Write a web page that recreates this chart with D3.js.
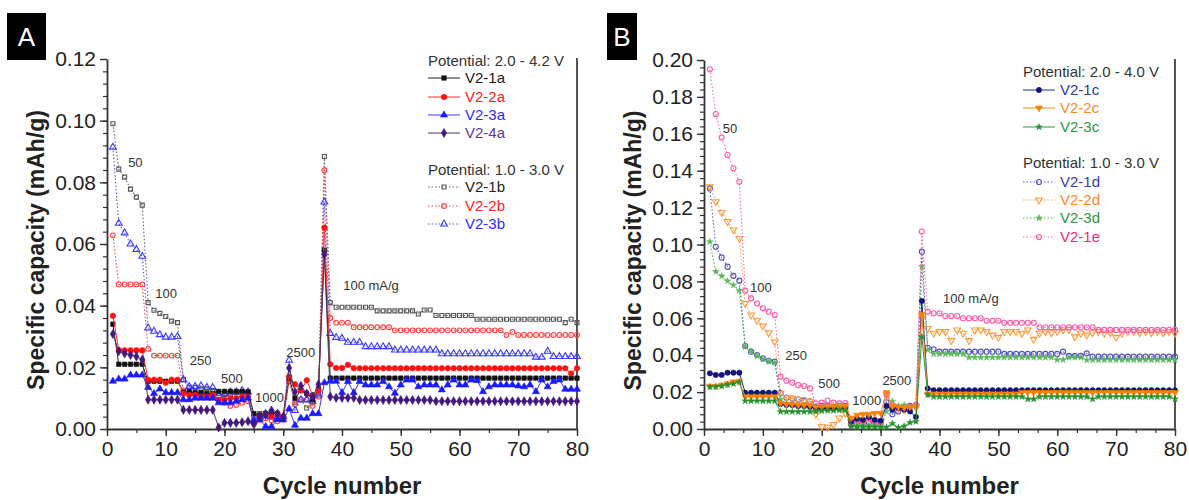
<!DOCTYPE html>
<html>
<head>
<meta charset="utf-8">
<script src="https://cdn.jsdelivr.net/npm/d3@7"></script>
<style>
html, body { margin: 0; padding: 0; background: #fff; }
svg { display: block; font-family: "Liberation Sans", Arial, Helvetica, sans-serif; }
</style>
</head>
<body>
<svg id="chart" width="1189" height="500"></svg>
<script>
// ---------- data ----------
const cycles = d3.range(1, 81);

// Panel A, potential 2.0 - 4.2 V
const v21a = [
  0.034, 0.021, 0.021, 0.021, 0.021, 0.021,
  0.0155, 0.0155, 0.0155, 0.0155, 0.0155, 0.0155,
  0.012, 0.012, 0.0118, 0.0118, 0.0115, 0.0115,
  0.0122, 0.0122, 0.0122, 0.0122, 0.0122, 0.012,
  0.005, 0.0045, 0.005, 0.0055, 0.005, 0.004,
  0.0165, 0.01, 0.0125, 0.0115, 0.0095, 0.013,
  0.058,
  0.0165, 0.0165, 0.0165, 0.0165, 0.0165, 0.0165, 0.0165, 0.0165, 0.0165, 0.0165,
  0.0165, 0.0165, 0.0165, 0.0165, 0.0165, 0.0165, 0.0165, 0.0165, 0.0165, 0.0165,
  0.0165, 0.0165, 0.0165, 0.0165, 0.0165, 0.0165, 0.0165, 0.0165, 0.0165, 0.0165,
  0.0165, 0.0165, 0.0165, 0.0165, 0.0165, 0.0165, 0.0165, 0.0165, 0.0165, 0.0165,
  0.0165, 0.0165, 0.0165
];
const v22a = [
  0.0367, 0.0256, 0.0255, 0.0255, 0.0255, 0.0255,
  0.016, 0.016, 0.016, 0.015, 0.016, 0.016,
  0.0115, 0.011, 0.011, 0.0105, 0.0105, 0.011,
  0.0095, 0.0095, 0.01, 0.01, 0.0105, 0.0105,
  0.002, 0.004, 0.0045, 0.004, 0.005, 0.004,
  0.017, 0.0145, 0.0125, 0.0158, 0.011, 0.0125,
  0.0653,
  0.021, 0.0198, 0.0198, 0.0208, 0.0197, 0.0197, 0.0197, 0.0197, 0.0197, 0.0197,
  0.0197, 0.0197, 0.0197, 0.0197, 0.0197, 0.0197, 0.0197, 0.0197, 0.0197, 0.0197,
  0.0197, 0.0197, 0.0197, 0.0197, 0.0197, 0.0197, 0.0197, 0.0197, 0.0197, 0.0197,
  0.0197, 0.0197, 0.0197, 0.0197, 0.0197, 0.0197, 0.0197, 0.0197, 0.0197, 0.0197,
  0.0197, 0.018, 0.0197
];
const v23a = [
  0.0155, 0.0162, 0.0162, 0.0175, 0.0175, 0.0175,
  0.0135, 0.0115, 0.013, 0.0118, 0.0118, 0.0118,
  0.0095, 0.0095, 0.01, 0.01, 0.01, 0.01,
  0.0085, 0.0085, 0.0085, 0.009, 0.0095, 0.01,
  0.0025, 0.003, 0.0008, 0.0008, 0.003, 0.003,
  0.0065, 0.0012, 0.0035, 0.0035, 0.005, 0.005,
  0.015,
  0.0155, 0.0155, 0.0118, 0.0154, 0.0118, 0.0154, 0.0143, 0.0143, 0.0143, 0.0154,
  0.0137, 0.0116, 0.0143, 0.0159, 0.0159, 0.0137, 0.0143, 0.0143, 0.0143, 0.0127,
  0.0143, 0.0159, 0.0143, 0.0143, 0.0159, 0.0157, 0.0121, 0.0137, 0.0143, 0.0143,
  0.0143, 0.0143, 0.014, 0.0137, 0.0143, 0.0121, 0.0159, 0.0137, 0.0154, 0.0159,
  0.0129, 0.0129, 0.0129
];
const v24a = [
  0.0308, 0.0252, 0.0245, 0.024, 0.0235, 0.0225,
  0.0095, 0.0095, 0.0095, 0.0095, 0.0095, 0.0095,
  0.0062, 0.0062, 0.0062, 0.0062, 0.0062, 0.0062,
  0.0005, 0.002, 0.002, 0.002, 0.0022, 0.0025,
  0.0015, 0.004, 0.0045, 0.006, 0.005, 0.004,
  0.0198, 0.012, 0.014, 0.0115, 0.0105, 0.0145,
  0.0566,
  0.0105, 0.0101, 0.0101, 0.0101, 0.0101, 0.0094, 0.0094, 0.0094, 0.0094, 0.0094,
  0.0094, 0.0094, 0.0094, 0.0094, 0.0094, 0.0094, 0.0094, 0.0094, 0.009, 0.009,
  0.009, 0.009, 0.009, 0.009, 0.009, 0.009, 0.009, 0.009, 0.009, 0.009,
  0.009, 0.009, 0.009, 0.009, 0.009, 0.009, 0.009, 0.009, 0.009, 0.009,
  0.009, 0.009, 0.009
];

// Panel A, potential 1.0 - 3.0 V
const v21b = [
  0.099, 0.0843, 0.0817, 0.0778, 0.0752, 0.0726,
  0.041, 0.0385, 0.0375, 0.0365, 0.035, 0.0345,
  0.016, 0.0135, 0.0135, 0.013, 0.013, 0.0125,
  0.0115, 0.0112, 0.0112, 0.0118, 0.0118, 0.012,
  0.004, 0.005, 0.0045, 0.005, 0.004, 0.0035,
  0.0165, 0.0085, 0.0095, 0.0068, 0.0085, 0.0115,
  0.0884,
  0.041, 0.0395, 0.0395, 0.0395, 0.0395, 0.0395, 0.0395, 0.0395, 0.0383, 0.0383,
  0.0383, 0.0383, 0.0383, 0.0383, 0.0383, 0.0373, 0.0386, 0.0386, 0.0368, 0.0368,
  0.0368, 0.0368, 0.0368, 0.0368, 0.0368, 0.0356, 0.0356, 0.0356, 0.0356, 0.0356,
  0.0356, 0.0356, 0.0356, 0.0356, 0.0356, 0.0356, 0.0356, 0.0356, 0.0356, 0.0356,
  0.0345, 0.0356, 0.0345
];
const v22b = [
  0.0628, 0.0469, 0.0469, 0.0469, 0.0469, 0.0469,
  0.026, 0.0238, 0.0238, 0.0238, 0.0238, 0.0238,
  0.0125, 0.0115, 0.0115, 0.011, 0.011, 0.011,
  0.0092, 0.0085, 0.0075, 0.0078, 0.0085, 0.009,
  0.0025, 0.003, 0.0035, 0.0028, 0.0025, 0.003,
  0.0155, 0.008, 0.0095, 0.0095, 0.0075, 0.0105,
  0.0839,
  0.036, 0.0345, 0.0345, 0.0345, 0.033, 0.033, 0.033, 0.033, 0.033, 0.033,
  0.033, 0.032, 0.032, 0.032, 0.032, 0.032, 0.032, 0.032, 0.032, 0.032,
  0.032, 0.032, 0.032, 0.032, 0.032, 0.032, 0.032, 0.032, 0.032, 0.032,
  0.0305, 0.0315, 0.0305, 0.0305, 0.0305, 0.0305, 0.0305, 0.0305, 0.0305, 0.0305,
  0.0305, 0.0305, 0.0305
];
const v23b = [
  0.0914, 0.0667, 0.0636, 0.06, 0.0582, 0.056,
  0.0328, 0.0317, 0.0306, 0.0298, 0.0298, 0.03,
  0.016, 0.0138, 0.0138, 0.014, 0.0135, 0.0135,
  0.0108, 0.0115, 0.012, 0.012, 0.0125, 0.012,
  0.003, 0.004, 0.005, 0.004, 0.0035, 0.004,
  0.0223, 0.006, 0.0095, 0.0095, 0.009, 0.011,
  0.0736,
  0.031, 0.0297, 0.0294, 0.0281, 0.0281, 0.0281, 0.0267, 0.0267, 0.0267, 0.0267,
  0.0267, 0.0256, 0.0256, 0.0256, 0.0256, 0.0256, 0.0256, 0.0256, 0.0256, 0.0244,
  0.0244, 0.0244, 0.0244, 0.0244, 0.0244, 0.0244, 0.0244, 0.0244, 0.0244, 0.0244,
  0.0244, 0.0244, 0.0244, 0.0244, 0.0244, 0.0233, 0.0233, 0.0252, 0.0235, 0.0235,
  0.0235, 0.0235, 0.0235
];

// Panel B, potential 2.0 - 4.0 V
const v21c = [
  0.0302, 0.0293, 0.0293, 0.0305, 0.0305, 0.0305,
  0.0197, 0.0197, 0.0197, 0.0197, 0.0197, 0.0197,
  0.0135, 0.013, 0.013, 0.0125, 0.0125, 0.012,
  0.0115, 0.0112, 0.011, 0.0112, 0.0115, 0.0115,
  0.004, 0.0055, 0.005, 0.0065, 0.005, 0.0045,
  0.0125, 0.0105, 0.0115, 0.0105, 0.0095, 0.0065,
  0.0694,
  0.022, 0.021, 0.021, 0.021, 0.021, 0.021, 0.021, 0.021, 0.021, 0.021,
  0.021, 0.021, 0.021, 0.021, 0.021, 0.021, 0.021, 0.021, 0.021, 0.021,
  0.021, 0.021, 0.021, 0.021, 0.021, 0.021, 0.021, 0.021, 0.021, 0.021,
  0.021, 0.021, 0.021, 0.021, 0.021, 0.021, 0.021, 0.021, 0.021, 0.021,
  0.021, 0.021, 0.021
];
const v22c = [
  0.0232, 0.0232, 0.0238, 0.0245, 0.0255, 0.0258,
  0.0175, 0.0175, 0.0175, 0.0175, 0.0175, 0.0175,
  0.014, 0.0135, 0.0135, 0.013, 0.013, 0.013,
  0.012, 0.012, 0.0122, 0.0122, 0.012, 0.0122,
  0.006, 0.0075, 0.008, 0.008, 0.0085, 0.0085,
  0.0198, 0.0125, 0.012, 0.0115, 0.012, 0.012,
  0.062,
  0.019, 0.019, 0.019, 0.019, 0.019, 0.019, 0.019, 0.019, 0.019, 0.019,
  0.019, 0.019, 0.019, 0.019, 0.019, 0.019, 0.0198, 0.0198, 0.0198, 0.0198,
  0.0198, 0.0198, 0.0198, 0.0198, 0.0198, 0.0198, 0.0198, 0.0198, 0.0198, 0.0198,
  0.0198, 0.0198, 0.0198, 0.0198, 0.0198, 0.0198, 0.0198, 0.0198, 0.0198, 0.0198,
  0.0198, 0.0198, 0.0198
];
const v23c = [
  0.0229, 0.0229, 0.0233, 0.024, 0.0245, 0.0255,
  0.0152, 0.0152, 0.0152, 0.0152, 0.0152, 0.0152,
  0.0094, 0.0094, 0.0094, 0.0094, 0.0094, 0.0094,
  0.0095, 0.0098, 0.01, 0.01, 0.0102, 0.0102,
  0.0015, 0.001, 0.0012, 0.001, 0.0012, 0.001,
  0.001, 0.003, 0.0008, 0.0015, 0.0035, 0.004,
  0.05,
  0.0185, 0.0175, 0.0175, 0.0175, 0.0175, 0.0175, 0.0175, 0.0175, 0.0175, 0.0175,
  0.0175, 0.0175, 0.0175, 0.0175, 0.0175, 0.0175, 0.0175, 0.0162, 0.0162, 0.0175,
  0.0175, 0.0175, 0.0175, 0.0175, 0.0175, 0.0175, 0.0175, 0.0175, 0.0162, 0.0175,
  0.0175, 0.0175, 0.0175, 0.0175, 0.0175, 0.0175, 0.0175, 0.0175, 0.0175, 0.0175,
  0.0175, 0.0175, 0.0162
];

// Panel B, potential 1.0 - 3.0 V
const v21d = [
  0.1304, 0.0988, 0.093, 0.088, 0.083, 0.0804,
  0.045, 0.0419, 0.0401, 0.0383, 0.037, 0.0365,
  0.0195, 0.017, 0.0165, 0.016, 0.0155, 0.015,
  0.012, 0.0125, 0.0125, 0.0122, 0.0125, 0.0125,
  0.0025, 0.003, 0.004, 0.0035, 0.004, 0.003,
  0.0145, 0.008, 0.0095, 0.011, 0.0125, 0.013,
  0.0961,
  0.044, 0.0432, 0.0419, 0.0419, 0.0419, 0.0419, 0.0419, 0.0419, 0.0419, 0.0419,
  0.0419, 0.0419, 0.0419, 0.0407, 0.0407, 0.0407, 0.0407, 0.0407, 0.0407, 0.0407,
  0.0407, 0.0407, 0.0407, 0.0419, 0.0396, 0.0396, 0.0396, 0.041, 0.0392, 0.0392,
  0.0392, 0.0392, 0.0392, 0.0392, 0.0392, 0.0392, 0.0392, 0.0392, 0.0392, 0.0392,
  0.0392, 0.0392, 0.0392
];
const v22d = [
  0.1313, 0.1232, 0.1174, 0.1124, 0.1079, 0.1033,
  0.0681, 0.0618, 0.059, 0.0558, 0.0522, 0.0473,
  0.0193, 0.017, 0.0165, 0.016, 0.015, 0.015,
  0.008, 0.0012, 0.001, 0.0025, 0.006, 0.0085,
  0.004, 0.005, 0.0035, 0.0045, 0.004, 0.004,
  0.0185, 0.0115, 0.011, 0.0105, 0.0115, 0.012,
  0.06,
  0.0545, 0.0519, 0.0528, 0.0528, 0.0479, 0.0537, 0.0519, 0.0479, 0.0537, 0.0537,
  0.0528, 0.0509, 0.0497, 0.0528, 0.0528, 0.0528, 0.0519, 0.0537, 0.0486, 0.0519,
  0.0528, 0.0522, 0.0528, 0.0537, 0.054, 0.05, 0.0519, 0.0509, 0.0522, 0.0528,
  0.0519, 0.0522, 0.0497, 0.0519, 0.0528, 0.0528, 0.0522, 0.0528, 0.0522, 0.0528,
  0.0522, 0.0528, 0.0519
];
const v23d = [
  0.1015, 0.0853, 0.0829, 0.0802, 0.078, 0.075,
  0.0446, 0.042, 0.0396, 0.0378, 0.0365, 0.036,
  0.016, 0.0135, 0.013, 0.0125, 0.0125, 0.012,
  0.0105, 0.011, 0.011, 0.0105, 0.011, 0.011,
  0.0015, 0.002, 0.002, 0.0015, 0.002, 0.0015,
  0.0095, 0.015, 0.0125, 0.013, 0.0115, 0.0125,
  0.088,
  0.0428, 0.0407, 0.0407, 0.0407, 0.0407, 0.0407, 0.0407, 0.0388, 0.0388, 0.0388,
  0.0388, 0.0388, 0.0388, 0.0388, 0.0388, 0.0388, 0.0388, 0.0388, 0.0388, 0.0388,
  0.0388, 0.0388, 0.0375, 0.0375, 0.0388, 0.0388, 0.0388, 0.0374, 0.0374, 0.0374,
  0.0374, 0.0374, 0.0374, 0.0374, 0.0374, 0.0374, 0.0374, 0.0374, 0.0374, 0.0374,
  0.0374, 0.0374, 0.0374
];
const v21e = [
  0.195, 0.1707, 0.158, 0.1485, 0.1413, 0.134,
  0.075, 0.0708, 0.068, 0.0654, 0.0636, 0.0618,
  0.0284, 0.0262, 0.0251, 0.0238, 0.0233, 0.022,
  0.0139, 0.0143, 0.0154, 0.0143, 0.0139, 0.014,
  0.003, 0.0045, 0.004, 0.0055, 0.004, 0.0035,
  0.0184, 0.013, 0.0115, 0.011, 0.012, 0.013,
  0.107,
  0.0636, 0.0627, 0.0627, 0.0612, 0.0612, 0.0612, 0.06, 0.06, 0.06, 0.06,
  0.0587, 0.0587, 0.0587, 0.0576, 0.0576, 0.0576, 0.0576, 0.0576, 0.0576, 0.0551,
  0.0551, 0.0551, 0.0551, 0.0551, 0.0551, 0.0551, 0.0551, 0.0551, 0.0551, 0.0537,
  0.0537, 0.0537, 0.0537, 0.0537, 0.0537, 0.0537, 0.0537, 0.0537, 0.0537, 0.0537,
  0.0537, 0.0537, 0.0537
];

// axis ticks
const xTicks = [0, 10, 20, 30, 40, 50, 60, 70, 80];
const yTicksA = [0, 0.02, 0.04, 0.06, 0.08, 0.10, 0.12];
const yTicksB = [0, 0.02, 0.04, 0.06, 0.08, 0.10, 0.12, 0.14, 0.16, 0.18, 0.20];

// current-density notes (cycle, capacity anchor)
const rateNotesA = [
  { text: "50", cycle: 3.6, value: 0.085 },
  { text: "100", cycle: 8.2, value: 0.0425 },
  { text: "250", cycle: 14.1, value: 0.0208 },
  { text: "500", cycle: 19.4, value: 0.0149 },
  { text: "1000", cycle: 25.2, value: 0.0088 },
  { text: "2500", cycle: 30.5, value: 0.0234 },
  { text: "100 mA/g", cycle: 40.2, value: 0.0451 }
];
const rateNotesB = [
  { text: "50", cycle: 3.2, value: 0.1604 },
  { text: "100", cycle: 7.8, value: 0.0743 },
  { text: "250", cycle: 13.8, value: 0.0374 },
  { text: "500", cycle: 19.4, value: 0.0222 },
  { text: "1000", cycle: 25.2, value: 0.013 },
  { text: "2500", cycle: 30.3, value: 0.0238 },
  { text: "100 mA/g", cycle: 40.6, value: 0.0683 }
];

// ---------- styles ----------
const downTriangle = { draw(ctx, size) { d3.symbolTriangle.draw(ctx, size); } };

const panelA = {
  letter: "A", letterBox: [7, 13, 39, 47],
  left: 107, right: 577, top: 59, bottom: 429, yMax: 0.12,
  yTicks: yTicksA, xMinorStep: 5, yMinorStep: 0.004,
  notes: rateNotesA,
  legendX: 428,
  groups: [
    { title: "Potential: 2.0 - 4.2 V", titleY: 61, items: [
      { name: "V2-1a", values: v21a, color: "#111", line: "#222", text: "#1a1a1a", sym: d3.symbolSquare, size: 20, fill: true, dotted: false, y: 78 },
      { name: "V2-2a", values: v22a, color: "#ff1111", line: "#ff2a2a", text: "#ff2020", sym: d3.symbolCircle, size: 24, fill: true, dotted: false, y: 97 },
      { name: "V2-3a", values: v23a, color: "#1a1aff", line: "#3a3aff", text: "#2b2bff", sym: d3.symbolTriangle, size: 22, fill: true, dotted: false, y: 115 },
      { name: "V2-4a", values: v24a, color: "#44177f", line: "#4a3a66", text: "#5b3a9b", sym: d3.symbolDiamond, size: 24, fill: true, dotted: false, y: 133 }
    ]},
    { title: "Potential: 1.0 - 3.0 V", titleY: 170, items: [
      { name: "V2-1b", values: v21b, color: "#555", line: "#666", text: "#222", sym: d3.symbolSquare, size: 16, fill: false, dotted: true, y: 187 },
      { name: "V2-2b", values: v22b, color: "#ff4040", line: "#ff4a4a", text: "#ff2020", sym: d3.symbolCircle, size: 18, fill: false, dotted: true, y: 206 },
      { name: "V2-3b", values: v23b, color: "#3a3aff", line: "#5555ff", text: "#2b2bff", sym: d3.symbolTriangle, size: 20, fill: false, dotted: true, y: 224 }
    ]}
  ]
};

const panelB = {
  letter: "B", letterBox: [607, 13, 30, 47],
  left: 704, right: 1175, top: 60, bottom: 429, yMax: 0.20,
  yTicks: yTicksB, xMinorStep: 10 / 3, yMinorStep: 0.004,
  notes: rateNotesB,
  legendX: 1023,
  groups: [
    { title: "Potential: 2.0 - 4.0 V", titleY: 72, items: [
      { name: "V2-1c", values: v21c, color: "#14147a", line: "#2a2a8a", text: "#3333a0", sym: d3.symbolCircle, size: 22, fill: true, dotted: false, y: 90 },
      { name: "V2-2c", values: v22c, color: "#ff8000", line: "#ff8a1e", text: "#ff8a1e", sym: downTriangle, size: 20, fill: true, dotted: false, y: 108 },
      { name: "V2-3c", values: v23c, color: "#23912e", line: "#2a9a3a", text: "#2a9a3a", sym: d3.symbolStar, size: 13, fill: true, dotted: false, y: 127 }
    ]},
    { title: "Potential: 1.0 - 3.0 V", titleY: 163, items: [
      { name: "V2-1d", values: v21d, color: "#5050c0", line: "#5a5ac8", text: "#3b3bab", sym: d3.symbolCircle, size: 20, fill: false, dotted: true, y: 182 },
      { name: "V2-2d", values: v22d, color: "#ff9a3a", line: "#ffa040", text: "#ff8a1e", sym: downTriangle, size: 20, fill: false, dotted: true, y: 200 },
      { name: "V2-3d", values: v23d, color: "#5cb85c", line: "#4cae50", text: "#2a9a3a", sym: d3.symbolStar, size: 13, fill: true, dotted: true, y: 218 },
      { name: "V2-1e", values: v21e, color: "#ff5aaa", line: "#ff66b2", text: "#f0287e", sym: d3.symbolCircle, size: 20, fill: false, dotted: true, y: 237 }
    ]}
  ]
};

// ---------- drawing ----------
const svg = d3.select("#chart");

function minorValues(max, step) {
  const out = [];
  for (let i = 0; i * step <= max + 1e-9; i++) out.push(+(i * step).toFixed(6));
  return out;
}

function drawMarker(sel, item, place) {
  const isDown = item.sym === downTriangle;
  sel.append("path")
    .attr("d", d3.symbol().type(isDown ? d3.symbolTriangle : item.sym).size(item.size)())
    .attr("transform", (d) => `${place(d)}${isDown ? " rotate(180)" : ""}`)
    .attr("fill", item.fill ? item.color : "#fff")
    .attr("fill-opacity", item.fill ? 1 : 0)
    .attr("stroke", item.color)
    .attr("stroke-width", item.fill ? 0.6 : 1.1);
}

function drawPanel(p) {
  const g = svg.append("g");
  const x = d3.scaleLinear().domain([0, 80]).range([p.left, p.right]);
  const y = d3.scaleLinear().domain([0, p.yMax]).range([p.bottom, p.top]);

  // panel letter
  g.append("rect")
    .attr("x", p.letterBox[0]).attr("y", p.letterBox[1])
    .attr("width", p.letterBox[2]).attr("height", p.letterBox[3])
    .attr("fill", "#000");
  g.append("text")
    .attr("x", p.letterBox[0] + p.letterBox[2] / 2)
    .attr("y", p.letterBox[1] + p.letterBox[3] / 2 + 9)
    .attr("text-anchor", "middle")
    .attr("font-size", 26).attr("fill", "#fff")
    .text(p.letter);

  // minor ticks
  g.append("g").attr("transform", `translate(${p.left},0)`)
    .call(d3.axisLeft(y).tickValues(minorValues(p.yMax, p.yMinorStep)).tickSize(4).tickFormat("").tickSizeOuter(0))
    .call((s) => s.select(".domain").remove())
    .call((s) => s.selectAll("line").attr("stroke", "#333").attr("stroke-width", 1.2));
  g.append("g").attr("transform", `translate(0,${p.bottom})`)
    .call(d3.axisBottom(x).tickValues(minorValues(80, p.xMinorStep)).tickSize(4).tickFormat("").tickSizeOuter(0))
    .call((s) => s.select(".domain").remove())
    .call((s) => s.selectAll("line").attr("stroke", "#333").attr("stroke-width", 1.2));

  // major axes
  const yAx = g.append("g").attr("transform", `translate(${p.left},0)`)
    .call(d3.axisLeft(y).tickValues(p.yTicks).tickFormat(d3.format(".2f")).tickSize(7).tickSizeOuter(0).tickPadding(4));
  const xAx = g.append("g").attr("transform", `translate(0,${p.bottom})`)
    .call(d3.axisBottom(x).tickValues(xTicks).tickFormat(d3.format("d")).tickSize(7).tickSizeOuter(0).tickPadding(5));
  [yAx, xAx].forEach((a) => {
    a.select(".domain").attr("stroke", "#333").attr("stroke-width", 1.8);
    a.selectAll(".tick line").attr("stroke", "#333").attr("stroke-width", 1.4);
    a.selectAll(".tick text").attr("font-size", 21).attr("fill", "#222")
      .attr("font-family", '"Liberation Sans", Arial, sans-serif');
  });

  // right frame line
  g.append("line")
    .attr("x1", p.right).attr("x2", p.right)
    .attr("y1", p.top - 1).attr("y2", p.bottom)
    .attr("stroke", "#555").attr("stroke-width", 2);

  // axis titles
  g.append("text")
    .attr("transform", `translate(${p.left - 63},${(p.top + p.bottom) / 2 + 6}) rotate(-90)`)
    .attr("text-anchor", "middle").attr("font-size", 23).attr("font-weight", "bold").attr("fill", "#222")
    .text("Specific capacity (mAh/g)");
  g.append("text")
    .attr("x", (p.left + p.right) / 2).attr("y", 494)
    .attr("text-anchor", "middle").attr("font-size", 24).attr("font-weight", "bold").attr("fill", "#222")
    .text("Cycle number");

  // series: dotted ones first, solid ones on top
  const items = p.groups.flatMap((gr) => gr.items);
  const order = items.filter((d) => d.dotted).concat(items.filter((d) => !d.dotted));
  order.forEach((item) => {
    const pts = cycles.map((c, i) => [c, item.values[i]]);
    g.append("path")
      .datum(pts)
      .attr("fill", "none")
      .attr("stroke", item.line)
      .attr("stroke-width", item.dotted ? 1.1 : 1)
      .attr("stroke-dasharray", item.dotted ? "1.5,2" : null)
      .attr("d", d3.line().x((d) => x(d[0])).y((d) => y(d[1])));
    const mk = g.append("g").selectAll("g").data(pts).join("g");
    drawMarker(mk, item, (d) => `translate(${x(d[0])},${y(d[1])})`);
  });

  // rate notes
  g.append("g").selectAll("text").data(p.notes).join("text")
    .attr("x", (d) => x(d.cycle)).attr("y", (d) => y(d.value))
    .attr("font-size", 13).attr("fill", "#333")
    .text((d) => d.text);

  // legend
  const lg = g.append("g");
  p.groups.forEach((gr) => {
    lg.append("text").attr("x", p.legendX).attr("y", gr.titleY + 5)
      .attr("font-size", 15).attr("fill", "#333").text(gr.title);
    gr.items.forEach((item) => {
      lg.append("line")
        .attr("x1", p.legendX).attr("x2", p.legendX + 32)
        .attr("y1", item.y).attr("y2", item.y)
        .attr("stroke", item.line).attr("stroke-width", 1)
        .attr("stroke-dasharray", item.dotted ? "1.5,2" : null);
      const m = lg.append("g").datum([0, 0]);
      drawMarker(m, item, () => `translate(${p.legendX + 16},${item.y})`);
      lg.append("text").attr("x", p.legendX + 37).attr("y", item.y + 5)
        .attr("font-size", 15).attr("fill", item.text).text(item.name);
    });
  });
}

drawPanel(panelA);
drawPanel(panelB);
</script>
</body>
</html>
